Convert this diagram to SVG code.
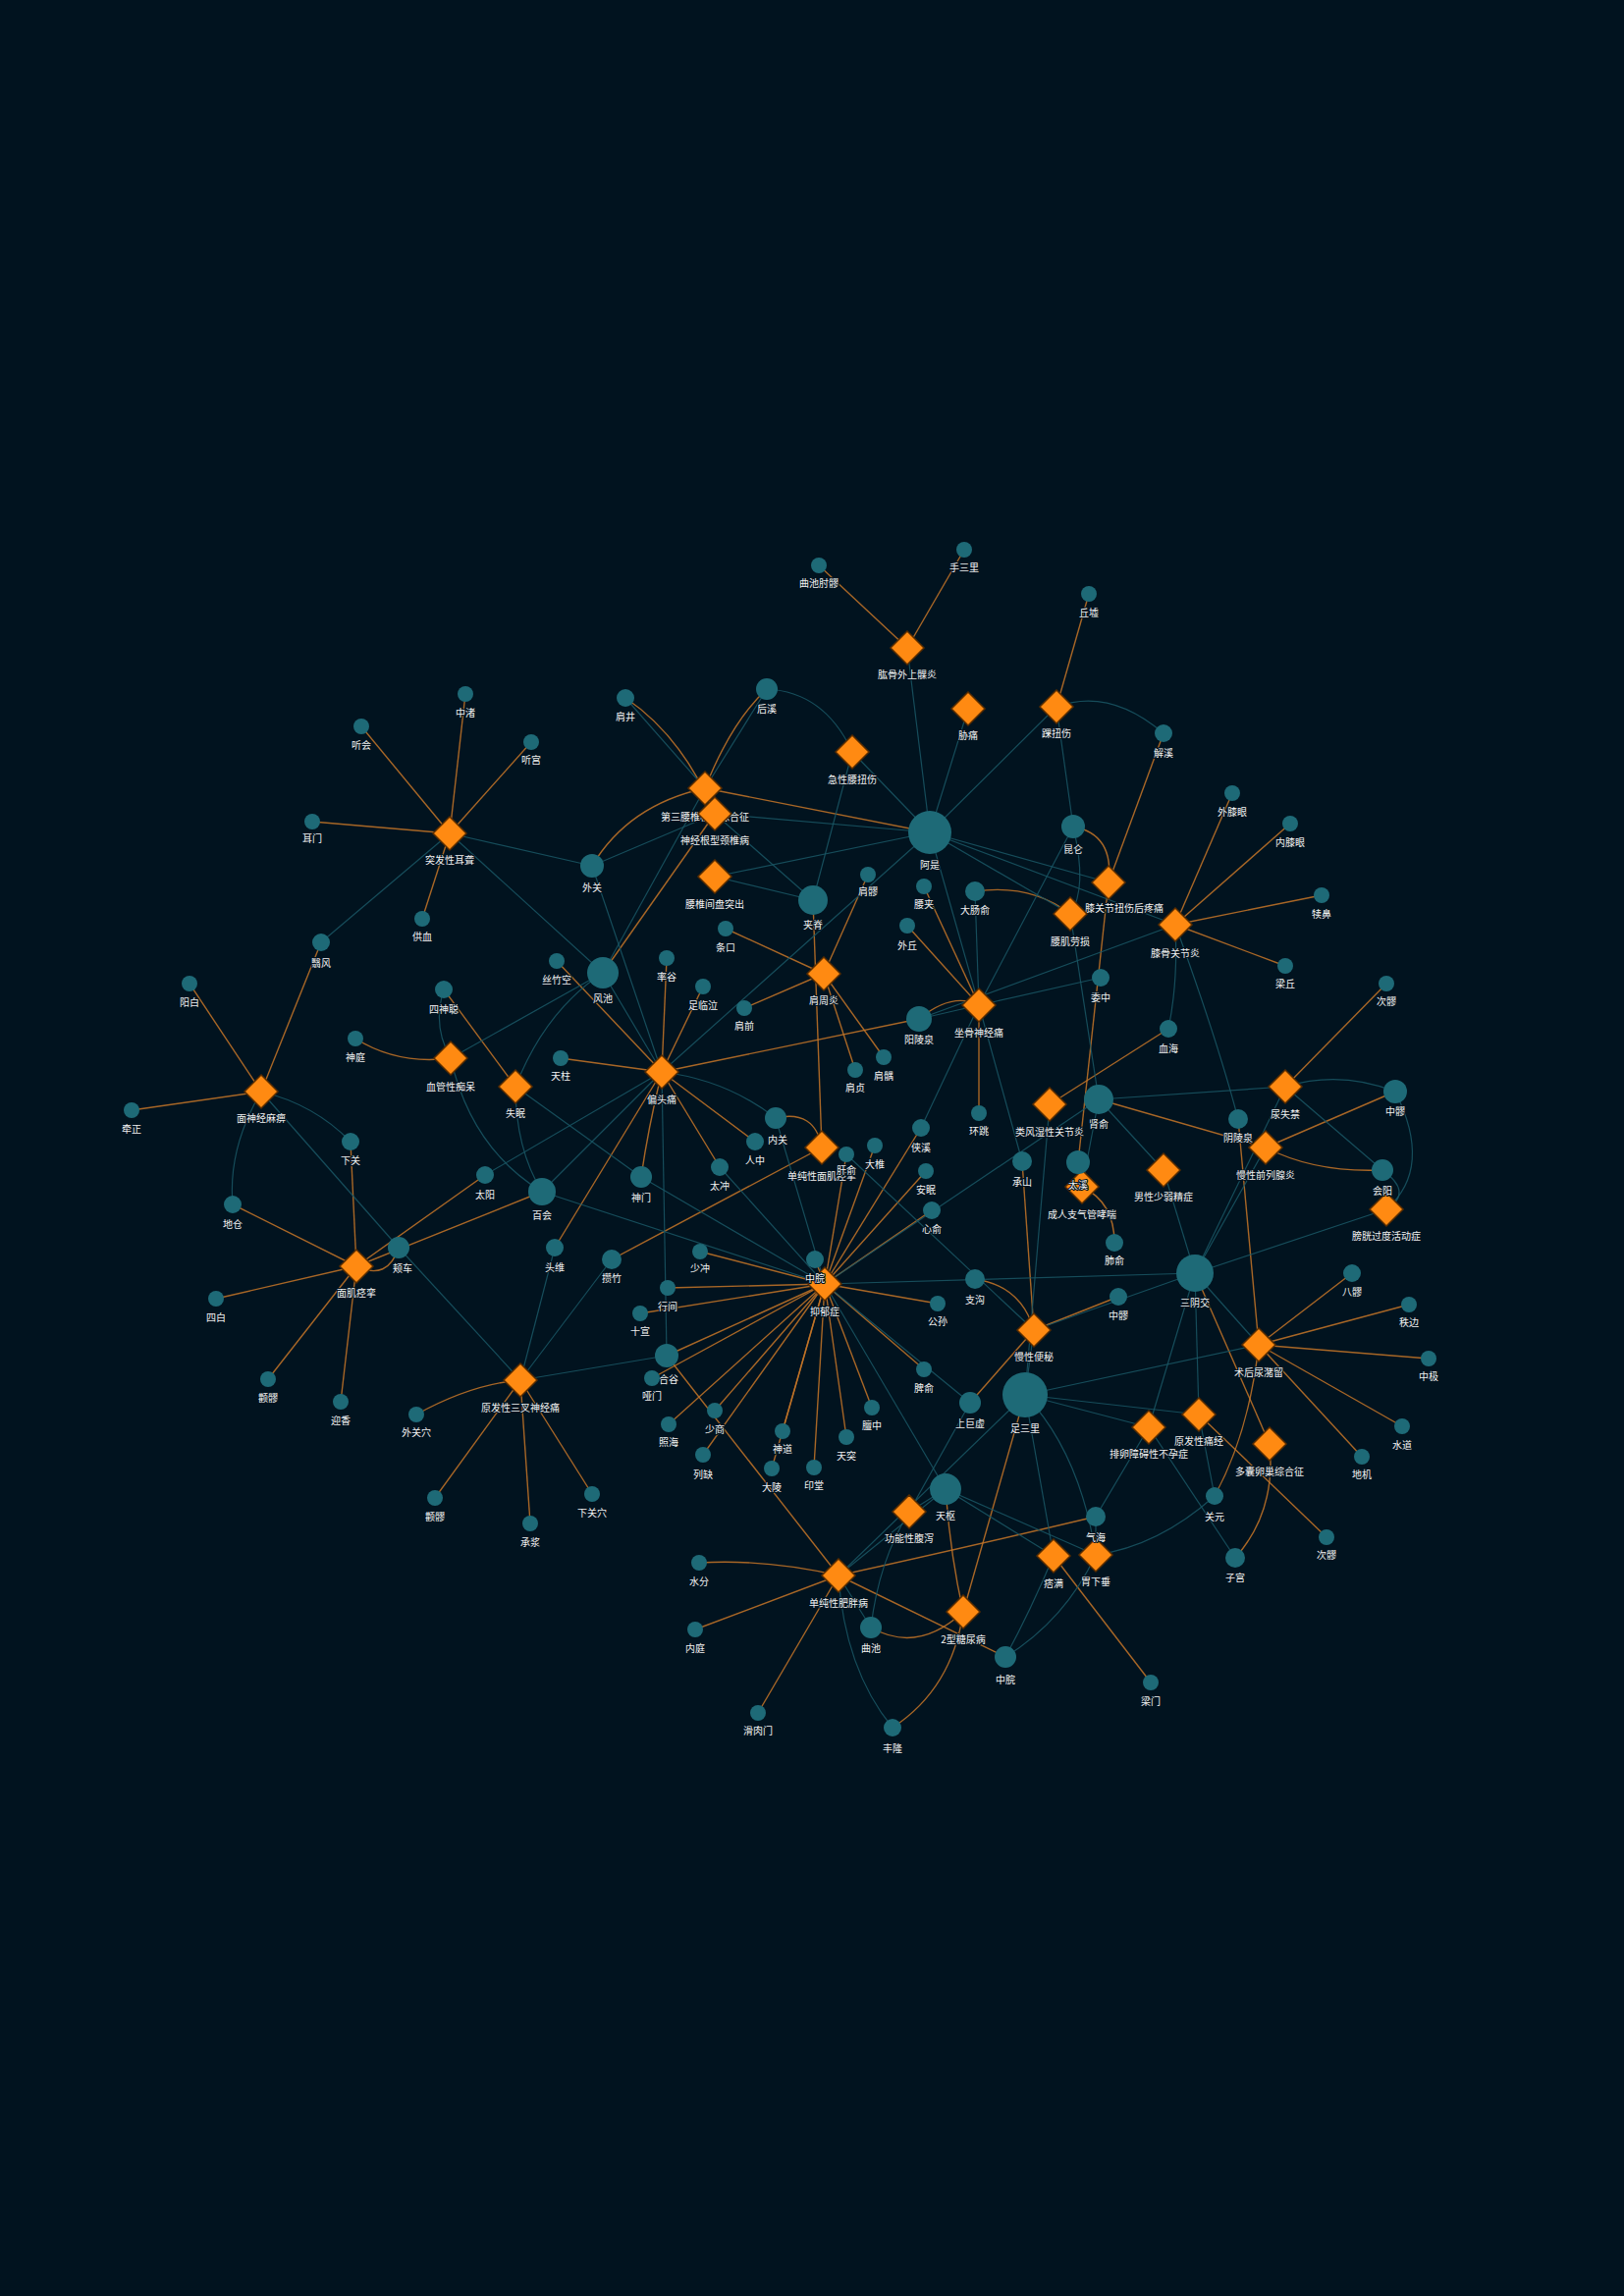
<svg xmlns="http://www.w3.org/2000/svg" xmlns:xlink="http://www.w3.org/1999/xlink" width="1654" height="2339" viewBox="0 0 1654 2339">
<defs>
<style>
.eo{stroke:#c57628;stroke-width:1.4;fill:none;opacity:.85}
.et{stroke:#1a5765;stroke-width:1.2;fill:none;opacity:.85}
.pt{fill:#1e6a77}
.dz{fill:#ff8a12;stroke:#5a2d00;stroke-width:1.5}
text{font-family:"Noto Sans CJK SC","Noto Sans",sans-serif;font-size:10px;fill:#f2f2f2;text-anchor:middle;stroke:#02131f;stroke-width:2.2;paint-order:stroke;stroke-linejoin:round}
</style>
<path id="dm" d="M0,-17 L17,0 L0,17 L-17,0Z"/>
</defs>
<rect width="1654" height="2339" fill="#01131f"/>
<g id="edges">
<line class="eo" x1="924" y1="660" x2="834" y2="576"/>
<line class="eo" x1="924" y1="660" x2="982" y2="560"/>
<line class="eo" x1="1076" y1="720" x2="1109" y2="605"/>
<line class="eo" x1="718" y1="803" x2="947" y2="848"/>
<line class="eo" x1="728" y1="829" x2="614" y2="991"/>
<line class="eo" x1="458" y1="849" x2="368" y2="740"/>
<line class="eo" x1="458" y1="849" x2="474" y2="707"/>
<line class="eo" x1="458" y1="849" x2="541" y2="756"/>
<line class="eo" x1="458" y1="849" x2="318" y2="837"/>
<line class="eo" x1="458" y1="849" x2="430" y2="936"/>
<line class="eo" x1="1129" y1="899" x2="1185" y2="747"/>
<line class="eo" x1="1129" y1="899" x2="1098" y2="1184"/>
<line class="eo" x1="1197" y1="942" x2="1255" y2="808"/>
<line class="eo" x1="1197" y1="942" x2="1314" y2="839"/>
<line class="eo" x1="1197" y1="942" x2="1346" y2="912"/>
<line class="eo" x1="1197" y1="942" x2="1309" y2="984"/>
<line class="eo" x1="839" y1="992" x2="739" y2="946"/>
<line class="eo" x1="839" y1="992" x2="884" y2="891"/>
<line class="eo" x1="839" y1="992" x2="758" y2="1027"/>
<line class="eo" x1="839" y1="992" x2="871" y2="1090"/>
<line class="eo" x1="839" y1="992" x2="900" y2="1077"/>
<line class="eo" x1="837" y1="1169" x2="828" y2="917"/>
<line class="eo" x1="837" y1="1169" x2="623" y2="1283"/>
<line class="eo" x1="997" y1="1024" x2="924" y2="943"/>
<line class="eo" x1="997" y1="1024" x2="941" y2="903"/>
<line class="eo" x1="997" y1="1024" x2="997" y2="1134"/>
<line class="eo" x1="674" y1="1092" x2="679" y2="976"/>
<line class="eo" x1="674" y1="1092" x2="716" y2="1005"/>
<line class="eo" x1="674" y1="1092" x2="567" y2="979"/>
<line class="eo" x1="674" y1="1092" x2="571" y2="1078"/>
<line class="eo" x1="674" y1="1092" x2="733" y2="1189"/>
<line class="eo" x1="674" y1="1092" x2="769" y2="1163"/>
<line class="eo" x1="674" y1="1092" x2="565" y2="1271"/>
<line class="eo" x1="674" y1="1092" x2="936" y2="1038"/>
<line class="eo" x1="525" y1="1107" x2="452" y2="1008"/>
<line class="eo" x1="266" y1="1112" x2="193" y2="1002"/>
<line class="eo" x1="266" y1="1112" x2="327" y2="960"/>
<line class="eo" x1="266" y1="1112" x2="134" y2="1131"/>
<line class="eo" x1="363" y1="1290" x2="237" y2="1227"/>
<line class="eo" x1="363" y1="1290" x2="357" y2="1163"/>
<line class="eo" x1="363" y1="1290" x2="220" y2="1323"/>
<line class="eo" x1="363" y1="1290" x2="273" y2="1405"/>
<line class="eo" x1="363" y1="1290" x2="347" y2="1428"/>
<line class="eo" x1="363" y1="1290" x2="494" y2="1197"/>
<line class="eo" x1="363" y1="1290" x2="552" y2="1214"/>
<line class="eo" x1="530" y1="1406" x2="443" y2="1526"/>
<line class="eo" x1="530" y1="1406" x2="540" y2="1552"/>
<line class="eo" x1="530" y1="1406" x2="603" y2="1522"/>
<line class="eo" x1="840" y1="1308" x2="830" y2="1283"/>
<line class="eo" x1="840" y1="1308" x2="862" y2="1176"/>
<line class="eo" x1="840" y1="1308" x2="891" y2="1167"/>
<line class="eo" x1="840" y1="1308" x2="938" y2="1149"/>
<line class="eo" x1="840" y1="1308" x2="943" y2="1193"/>
<line class="eo" x1="840" y1="1308" x2="949" y2="1233"/>
<line class="eo" x1="840" y1="1308" x2="955" y2="1328"/>
<line class="eo" x1="840" y1="1308" x2="941" y2="1395"/>
<line class="eo" x1="840" y1="1308" x2="888" y2="1434"/>
<line class="eo" x1="840" y1="1308" x2="862" y2="1464"/>
<line class="eo" x1="840" y1="1308" x2="829" y2="1495"/>
<line class="eo" x1="840" y1="1308" x2="786" y2="1496"/>
<line class="eo" x1="840" y1="1308" x2="797" y2="1458"/>
<line class="eo" x1="840" y1="1308" x2="716" y2="1482"/>
<line class="eo" x1="840" y1="1308" x2="728" y2="1437"/>
<line class="eo" x1="840" y1="1308" x2="681" y2="1451"/>
<line class="eo" x1="840" y1="1308" x2="664" y2="1404"/>
<line class="eo" x1="840" y1="1308" x2="679" y2="1381"/>
<line class="eo" x1="840" y1="1308" x2="652" y2="1338"/>
<line class="eo" x1="840" y1="1308" x2="680" y2="1312"/>
<line class="eo" x1="840" y1="1308" x2="713" y2="1275"/>
<line class="eo" x1="1053" y1="1355" x2="1041" y2="1183"/>
<line class="eo" x1="1053" y1="1355" x2="1139" y2="1321"/>
<line class="eo" x1="1053" y1="1355" x2="988" y2="1429"/>
<line class="eo" x1="1069" y1="1125" x2="1190" y2="1048"/>
<line class="eo" x1="1102" y1="1209" x2="1098" y2="1184"/>
<line class="eo" x1="1309" y1="1107" x2="1412" y2="1002"/>
<line class="eo" x1="1289" y1="1169" x2="1421" y2="1112"/>
<line class="eo" x1="1289" y1="1169" x2="1119" y2="1120"/>
<line class="eo" x1="1282" y1="1370" x2="1261" y2="1140"/>
<line class="eo" x1="1282" y1="1370" x2="1377" y2="1297"/>
<line class="eo" x1="1282" y1="1370" x2="1435" y2="1329"/>
<line class="eo" x1="1282" y1="1370" x2="1455" y2="1384"/>
<line class="eo" x1="1282" y1="1370" x2="1428" y2="1453"/>
<line class="eo" x1="1282" y1="1370" x2="1387" y2="1484"/>
<line class="eo" x1="1221" y1="1441" x2="1351" y2="1566"/>
<line class="eo" x1="1293" y1="1471" x2="1217" y2="1297"/>
<line class="eo" x1="1073" y1="1585" x2="1172" y2="1714"/>
<line class="eo" x1="854" y1="1605" x2="708" y2="1660"/>
<line class="eo" x1="854" y1="1605" x2="772" y2="1745"/>
<line class="eo" x1="854" y1="1605" x2="679" y2="1381"/>
<line class="eo" x1="854" y1="1605" x2="1024" y2="1688"/>
<line class="eo" x1="981" y1="1642" x2="1044" y2="1421"/>
<path class="eo" d="M781,702 Q745,735 718,803"/>
<path class="eo" d="M603,882 Q640,820 718,803"/>
<path class="eo" d="M637,711 Q695,750 728,829"/>
<path class="eo" d="M362,1058 Q405,1085 459,1078"/>
<path class="eo" d="M674,1092 Q660,1150 653,1199"/>
<path class="eo" d="M363,1290 Q395,1305 406,1271"/>
<path class="eo" d="M837,1169 Q830,1130 790,1139"/>
<path class="eo" d="M997,1024 Q970,1010 936,1038"/>
<path class="eo" d="M1090,931 Q1050,900 993,908"/>
<path class="eo" d="M1129,899 Q1135,850 1093,842"/>
<path class="eo" d="M1053,1355 Q1040,1310 993,1303"/>
<path class="eo" d="M1102,1209 Q1135,1225 1135,1266"/>
<path class="eo" d="M1289,1169 Q1340,1195 1408,1192"/>
<path class="eo" d="M1282,1370 Q1272,1460 1237,1524"/>
<path class="eo" d="M1293,1471 Q1300,1540 1258,1587"/>
<path class="eo" d="M854,1605 Q780,1588 712,1592"/>
<path class="eo" d="M854,1605 Q990,1575 1116,1545"/>
<path class="eo" d="M981,1642 Q935,1685 887,1658"/>
<path class="eo" d="M981,1642 Q970,1720 909,1760"/>
<path class="eo" d="M981,1642 Q968,1585 963,1517"/>
<path class="eo" d="M530,1406 Q480,1410 424,1441"/>
<line class="et" x1="924" y1="660" x2="947" y2="848"/>
<line class="et" x1="986" y1="722" x2="947" y2="848"/>
<line class="et" x1="1076" y1="720" x2="947" y2="848"/>
<line class="et" x1="1076" y1="720" x2="1093" y2="842"/>
<line class="et" x1="868" y1="766" x2="947" y2="848"/>
<line class="et" x1="868" y1="766" x2="828" y2="917"/>
<line class="et" x1="718" y1="803" x2="637" y2="711"/>
<line class="et" x1="718" y1="803" x2="781" y2="702"/>
<line class="et" x1="718" y1="803" x2="614" y2="991"/>
<line class="et" x1="728" y1="829" x2="603" y2="882"/>
<line class="et" x1="728" y1="829" x2="828" y2="917"/>
<line class="et" x1="728" y1="829" x2="947" y2="848"/>
<line class="et" x1="458" y1="849" x2="603" y2="882"/>
<line class="et" x1="458" y1="849" x2="327" y2="960"/>
<line class="et" x1="458" y1="849" x2="614" y2="991"/>
<line class="et" x1="728" y1="893" x2="828" y2="917"/>
<line class="et" x1="728" y1="893" x2="947" y2="848"/>
<line class="et" x1="1129" y1="899" x2="947" y2="848"/>
<line class="et" x1="1090" y1="931" x2="947" y2="848"/>
<line class="et" x1="1090" y1="931" x2="1119" y2="1120"/>
<line class="et" x1="1197" y1="942" x2="936" y2="1038"/>
<line class="et" x1="1197" y1="942" x2="947" y2="848"/>
<line class="et" x1="997" y1="1024" x2="993" y2="908"/>
<line class="et" x1="997" y1="1024" x2="1121" y2="996"/>
<line class="et" x1="997" y1="1024" x2="1041" y2="1183"/>
<line class="et" x1="997" y1="1024" x2="938" y2="1149"/>
<line class="et" x1="997" y1="1024" x2="1093" y2="842"/>
<line class="et" x1="997" y1="1024" x2="936" y2="1038"/>
<line class="et" x1="997" y1="1024" x2="947" y2="848"/>
<line class="et" x1="459" y1="1078" x2="614" y2="991"/>
<line class="et" x1="674" y1="1092" x2="614" y2="991"/>
<line class="et" x1="674" y1="1092" x2="494" y2="1197"/>
<line class="et" x1="674" y1="1092" x2="552" y2="1214"/>
<line class="et" x1="674" y1="1092" x2="679" y2="1381"/>
<line class="et" x1="674" y1="1092" x2="603" y2="882"/>
<line class="et" x1="674" y1="1092" x2="947" y2="848"/>
<line class="et" x1="525" y1="1107" x2="653" y2="1199"/>
<line class="et" x1="266" y1="1112" x2="406" y2="1271"/>
<line class="et" x1="530" y1="1406" x2="679" y2="1381"/>
<line class="et" x1="530" y1="1406" x2="406" y2="1271"/>
<line class="et" x1="530" y1="1406" x2="565" y2="1271"/>
<line class="et" x1="530" y1="1406" x2="623" y2="1283"/>
<line class="et" x1="840" y1="1308" x2="1217" y2="1297"/>
<line class="et" x1="840" y1="1308" x2="653" y2="1199"/>
<line class="et" x1="840" y1="1308" x2="733" y2="1189"/>
<line class="et" x1="840" y1="1308" x2="552" y2="1214"/>
<line class="et" x1="840" y1="1308" x2="790" y2="1139"/>
<line class="et" x1="840" y1="1308" x2="1119" y2="1120"/>
<line class="et" x1="840" y1="1308" x2="963" y2="1517"/>
<line class="et" x1="840" y1="1308" x2="988" y2="1429"/>
<line class="et" x1="1053" y1="1355" x2="1044" y2="1421"/>
<line class="et" x1="1053" y1="1355" x2="1217" y2="1297"/>
<line class="et" x1="1053" y1="1355" x2="862" y2="1176"/>
<line class="et" x1="1069" y1="1125" x2="1044" y2="1421"/>
<line class="et" x1="1102" y1="1209" x2="1119" y2="1120"/>
<line class="et" x1="1309" y1="1107" x2="1119" y2="1120"/>
<line class="et" x1="1309" y1="1107" x2="1217" y2="1297"/>
<line class="et" x1="1309" y1="1107" x2="1408" y2="1192"/>
<line class="et" x1="1289" y1="1169" x2="1217" y2="1297"/>
<line class="et" x1="1185" y1="1192" x2="1217" y2="1297"/>
<line class="et" x1="1185" y1="1192" x2="1119" y2="1120"/>
<line class="et" x1="1412" y1="1232" x2="1217" y2="1297"/>
<line class="et" x1="1282" y1="1370" x2="1044" y2="1421"/>
<line class="et" x1="1282" y1="1370" x2="1217" y2="1297"/>
<line class="et" x1="1221" y1="1441" x2="1217" y2="1297"/>
<line class="et" x1="1221" y1="1441" x2="1044" y2="1421"/>
<line class="et" x1="1221" y1="1441" x2="1237" y2="1524"/>
<line class="et" x1="1170" y1="1454" x2="1258" y2="1587"/>
<line class="et" x1="1170" y1="1454" x2="1217" y2="1297"/>
<line class="et" x1="1170" y1="1454" x2="1044" y2="1421"/>
<line class="et" x1="1170" y1="1454" x2="1116" y2="1545"/>
<line class="et" x1="926" y1="1540" x2="963" y2="1517"/>
<line class="et" x1="926" y1="1540" x2="988" y2="1429"/>
<line class="et" x1="1073" y1="1585" x2="1044" y2="1421"/>
<line class="et" x1="1073" y1="1585" x2="963" y2="1517"/>
<line class="et" x1="1116" y1="1584" x2="1116" y2="1545"/>
<line class="et" x1="1116" y1="1584" x2="963" y2="1517"/>
<line class="et" x1="854" y1="1605" x2="963" y2="1517"/>
<line class="et" x1="854" y1="1605" x2="1044" y2="1421"/>
<line class="et" x1="854" y1="1605" x2="887" y2="1658"/>
<path class="et" d="M781,702 Q840,705 868,766"/>
<path class="et" d="M1076,720 Q1130,700 1185,747"/>
<path class="et" d="M452,1008 Q440,1045 459,1078"/>
<path class="et" d="M459,1078 Q480,1170 552,1214"/>
<path class="et" d="M525,1107 Q525,1170 552,1214"/>
<path class="et" d="M525,1107 Q555,1030 614,991"/>
<path class="et" d="M674,1092 Q740,1100 790,1139"/>
<path class="et" d="M266,1112 Q320,1125 357,1163"/>
<path class="et" d="M266,1112 Q232,1170 237,1227"/>
<path class="et" d="M1090,931 Q1108,905 1093,842"/>
<path class="et" d="M1309,1107 Q1365,1090 1421,1112"/>
<path class="et" d="M1421,1112 Q1460,1190 1412,1232"/>
<path class="et" d="M1408,1192 Q1440,1215 1412,1232"/>
<path class="et" d="M1197,942 Q1200,1000 1190,1048"/>
<path class="et" d="M1197,942 Q1240,1060 1261,1140"/>
<path class="et" d="M854,1605 Q860,1700 909,1760"/>
<path class="et" d="M1116,1584 Q1085,1650 1024,1688"/>
<path class="et" d="M1073,1585 Q1050,1640 1024,1688"/>
<path class="et" d="M1116,1584 Q1100,1480 1044,1421"/>
<path class="et" d="M1237,1524 Q1180,1575 1116,1584"/>
<path class="et" d="M926,1540 Q895,1590 887,1658"/>
</g>
<g id="diseases">
<g id="d1"><use href="#dm" class="dz" x="924" y="660"/><text x="924" y="691">肱骨外上髁炎</text></g>
<g id="d2"><use href="#dm" class="dz" x="986" y="722"/><text x="986" y="753">胁痛</text></g>
<g id="d3"><use href="#dm" class="dz" x="1076" y="720"/><text x="1076" y="751">踝扭伤</text></g>
<g id="d4"><use href="#dm" class="dz" x="868" y="766"/><text x="868" y="798">急性腰扭伤</text></g>
<g id="d5"><use href="#dm" class="dz" x="718" y="803"/><text x="718" y="836">第三腰椎横突综合征</text></g>
<g id="d6"><use href="#dm" class="dz" x="728" y="829"/><text x="728" y="860">神经根型颈椎病</text></g>
<g id="d7"><use href="#dm" class="dz" x="458" y="849"/><text x="458" y="880">突发性耳聋</text></g>
<g id="d8"><use href="#dm" class="dz" x="728" y="893"/><text x="728" y="925">腰椎间盘突出</text></g>
<g id="d9"><use href="#dm" class="dz" x="1129" y="899"/><text x="1145" y="929">膝关节扭伤后疼痛</text></g>
<g id="d10"><use href="#dm" class="dz" x="1090" y="931"/><text x="1090" y="963">腰肌劳损</text></g>
<g id="d11"><use href="#dm" class="dz" x="1197" y="942"/><text x="1197" y="975">膝骨关节炎</text></g>
<g id="d12"><use href="#dm" class="dz" x="839" y="992"/><text x="839" y="1023">肩周炎</text></g>
<g id="d13"><use href="#dm" class="dz" x="997" y="1024"/><text x="997" y="1056">坐骨神经痛</text></g>
<g id="d14"><use href="#dm" class="dz" x="459" y="1078"/><text x="459" y="1111">血管性痴呆</text></g>
<g id="d15"><use href="#dm" class="dz" x="674" y="1092"/><text x="674" y="1124">偏头痛</text></g>
<g id="d16"><use href="#dm" class="dz" x="525" y="1107"/><text x="525" y="1138">失眠</text></g>
<g id="d17"><use href="#dm" class="dz" x="266" y="1112"/><text x="266" y="1143">面神经麻痹</text></g>
<g id="d18"><use href="#dm" class="dz" x="1309" y="1107"/><text x="1309" y="1139">尿失禁</text></g>
<g id="d19"><use href="#dm" class="dz" x="1069" y="1125"/><text x="1069" y="1157">类风湿性关节炎</text></g>
<g id="d20"><use href="#dm" class="dz" x="837" y="1169"/><text x="837" y="1202">单纯性面肌痉挛</text></g>
<g id="d21"><use href="#dm" class="dz" x="1289" y="1169"/><text x="1289" y="1201">慢性前列腺炎</text></g>
<g id="d22"><use href="#dm" class="dz" x="1185" y="1192"/><text x="1185" y="1223">男性少弱精症</text></g>
<g id="d23"><use href="#dm" class="dz" x="1102" y="1209"/><text x="1102" y="1241">成人支气管哮喘</text></g>
<g id="d24"><use href="#dm" class="dz" x="1412" y="1232"/><text x="1412" y="1263">膀胱过度活动症</text></g>
<g id="d25"><use href="#dm" class="dz" x="363" y="1290"/><text x="363" y="1321">面肌痉挛</text></g>
<g id="d26"><use href="#dm" class="dz" x="840" y="1308"/><text x="840" y="1340">抑郁症</text></g>
<g id="d27"><use href="#dm" class="dz" x="1053" y="1355"/><text x="1053" y="1386">慢性便秘</text></g>
<g id="d28"><use href="#dm" class="dz" x="1282" y="1370"/><text x="1282" y="1402">术后尿潴留</text></g>
<g id="d29"><use href="#dm" class="dz" x="530" y="1406"/><text x="530" y="1438">原发性三叉神经痛</text></g>
<g id="d30"><use href="#dm" class="dz" x="1221" y="1441"/><text x="1221" y="1472">原发性痛经</text></g>
<g id="d31"><use href="#dm" class="dz" x="1170" y="1454"/><text x="1170" y="1485">排卵障碍性不孕症</text></g>
<g id="d32"><use href="#dm" class="dz" x="1293" y="1471"/><text x="1293" y="1503">多囊卵巢综合征</text></g>
<g id="d33"><use href="#dm" class="dz" x="926" y="1540"/><text x="926" y="1571">功能性腹泻</text></g>
<g id="d34"><use href="#dm" class="dz" x="1073" y="1585"/><text x="1073" y="1617">痞满</text></g>
<g id="d35"><use href="#dm" class="dz" x="1116" y="1584"/><text x="1116" y="1615">胃下垂</text></g>
<g id="d36"><use href="#dm" class="dz" x="854" y="1605"/><text x="854" y="1637">单纯性肥胖病</text></g>
<g id="d37"><use href="#dm" class="dz" x="981" y="1642"/><text x="981" y="1674">2型糖尿病</text></g>
</g>
<g id="points">
<g id="p1"><circle class="pt" cx="834" cy="576" r="8"/><text x="834" y="598">曲池肘髎</text></g>
<g id="p2"><circle class="pt" cx="982" cy="560" r="8"/><text x="982" y="582">手三里</text></g>
<g id="p3"><circle class="pt" cx="1109" cy="605" r="8"/><text x="1109" y="628">丘墟</text></g>
<g id="p4"><circle class="pt" cx="368" cy="740" r="8"/><text x="368" y="763">听会</text></g>
<g id="p5"><circle class="pt" cx="474" cy="707" r="8"/><text x="474" y="730">中渚</text></g>
<g id="p6"><circle class="pt" cx="541" cy="756" r="8"/><text x="541" y="778">听宫</text></g>
<g id="p7"><circle class="pt" cx="637" cy="711" r="9"/><text x="637" y="734">肩井</text></g>
<g id="p8"><circle class="pt" cx="781" cy="702" r="11"/><text x="781" y="726">后溪</text></g>
<g id="p9"><circle class="pt" cx="1185" cy="747" r="9"/><text x="1185" y="771">解溪</text></g>
<g id="p10"><circle class="pt" cx="318" cy="837" r="8"/><text x="318" y="858">耳门</text></g>
<g id="p11"><circle class="pt" cx="947" cy="848" r="22"/><text x="947" y="885">阿是</text></g>
<g id="p12"><circle class="pt" cx="1093" cy="842" r="12"/><text x="1093" y="869">昆仑</text></g>
<g id="p13"><circle class="pt" cx="1255" cy="808" r="8"/><text x="1255" y="831">外膝眼</text></g>
<g id="p14"><circle class="pt" cx="1314" cy="839" r="8"/><text x="1314" y="862">内膝眼</text></g>
<g id="p15"><circle class="pt" cx="603" cy="882" r="12"/><text x="603" y="908">外关</text></g>
<g id="p16"><circle class="pt" cx="884" cy="891" r="8"/><text x="884" y="912">肩髎</text></g>
<g id="p17"><circle class="pt" cx="941" cy="903" r="8"/><text x="941" y="925">腰夹</text></g>
<g id="p18"><circle class="pt" cx="993" cy="908" r="10"/><text x="993" y="931">大肠俞</text></g>
<g id="p19"><circle class="pt" cx="1346" cy="912" r="8"/><text x="1346" y="935">犊鼻</text></g>
<g id="p20"><circle class="pt" cx="828" cy="917" r="15"/><text x="828" y="946">夹脊</text></g>
<g id="p21"><circle class="pt" cx="430" cy="936" r="8"/><text x="430" y="958">供血</text></g>
<g id="p22"><circle class="pt" cx="924" cy="943" r="8"/><text x="924" y="967">外丘</text></g>
<g id="p23"><circle class="pt" cx="739" cy="946" r="8"/><text x="739" y="969">条口</text></g>
<g id="p24"><circle class="pt" cx="327" cy="960" r="9"/><text x="327" y="985">翳风</text></g>
<g id="p25"><circle class="pt" cx="193" cy="1002" r="8"/><text x="193" y="1025">阳白</text></g>
<g id="p26"><circle class="pt" cx="452" cy="1008" r="9"/><text x="452" y="1032">四神聪</text></g>
<g id="p27"><circle class="pt" cx="567" cy="979" r="8"/><text x="567" y="1002">丝竹空</text></g>
<g id="p28"><circle class="pt" cx="614" cy="991" r="16"/><text x="614" y="1021">风池</text></g>
<g id="p29"><circle class="pt" cx="679" cy="976" r="8"/><text x="679" y="999">率谷</text></g>
<g id="p30"><circle class="pt" cx="716" cy="1005" r="8"/><text x="716" y="1028">足临泣</text></g>
<g id="p31"><circle class="pt" cx="1412" cy="1002" r="8"/><text x="1412" y="1024">次髎</text></g>
<g id="p32"><circle class="pt" cx="1309" cy="984" r="8"/><text x="1309" y="1006">梁丘</text></g>
<g id="p33"><circle class="pt" cx="1121" cy="996" r="9"/><text x="1121" y="1020">委中</text></g>
<g id="p34"><circle class="pt" cx="758" cy="1027" r="8"/><text x="758" y="1049">肩前</text></g>
<g id="p35"><circle class="pt" cx="936" cy="1038" r="13"/><text x="936" y="1063">阳陵泉</text></g>
<g id="p36"><circle class="pt" cx="1190" cy="1048" r="9"/><text x="1190" y="1072">血海</text></g>
<g id="p37"><circle class="pt" cx="362" cy="1058" r="8"/><text x="362" y="1081">神庭</text></g>
<g id="p38"><circle class="pt" cx="571" cy="1078" r="8"/><text x="571" y="1100">天柱</text></g>
<g id="p39"><circle class="pt" cx="900" cy="1077" r="8"/><text x="900" y="1100">肩髃</text></g>
<g id="p40"><circle class="pt" cx="871" cy="1090" r="8"/><text x="871" y="1112">肩贞</text></g>
<g id="p41"><circle class="pt" cx="1421" cy="1112" r="12"/><text x="1421" y="1136">中髎</text></g>
<g id="p42"><circle class="pt" cx="134" cy="1131" r="8"/><text x="134" y="1154">牵正</text></g>
<g id="p43"><circle class="pt" cx="997" cy="1134" r="8"/><text x="997" y="1156">环跳</text></g>
<g id="p44"><circle class="pt" cx="790" cy="1139" r="11"/><text x="792" y="1165">内关</text></g>
<g id="p45"><circle class="pt" cx="1119" cy="1120" r="15"/><text x="1119" y="1149">肾俞</text></g>
<g id="p46"><circle class="pt" cx="1261" cy="1140" r="10"/><text x="1261" y="1163">阴陵泉</text></g>
<g id="p47"><circle class="pt" cx="938" cy="1149" r="9"/><text x="938" y="1173">侠溪</text></g>
<g id="p48"><circle class="pt" cx="357" cy="1163" r="9"/><text x="357" y="1186">下关</text></g>
<g id="p49"><circle class="pt" cx="769" cy="1163" r="9"/><text x="769" y="1186">人中</text></g>
<g id="p50"><circle class="pt" cx="891" cy="1167" r="8"/><text x="891" y="1190">大椎</text></g>
<g id="p51"><circle class="pt" cx="862" cy="1176" r="8"/><text x="862" y="1196">肝俞</text></g>
<g id="p52"><circle class="pt" cx="1041" cy="1183" r="10"/><text x="1041" y="1208">承山</text></g>
<g id="p53"><circle class="pt" cx="1098" cy="1184" r="12"/><text x="1098" y="1211">太溪</text></g>
<g id="p54"><circle class="pt" cx="733" cy="1189" r="9"/><text x="733" y="1212">太冲</text></g>
<g id="p55"><circle class="pt" cx="1408" cy="1192" r="11"/><text x="1408" y="1217">会阳</text></g>
<g id="p56"><circle class="pt" cx="943" cy="1193" r="8"/><text x="943" y="1216">安眠</text></g>
<g id="p57"><circle class="pt" cx="494" cy="1197" r="9"/><text x="494" y="1221">太阳</text></g>
<g id="p58"><circle class="pt" cx="653" cy="1199" r="11"/><text x="653" y="1224">神门</text></g>
<g id="p59"><circle class="pt" cx="552" cy="1214" r="14"/><text x="552" y="1242">百会</text></g>
<g id="p60"><circle class="pt" cx="237" cy="1227" r="9"/><text x="237" y="1251">地仓</text></g>
<g id="p61"><circle class="pt" cx="949" cy="1233" r="9"/><text x="949" y="1256">心俞</text></g>
<g id="p62"><circle class="pt" cx="1135" cy="1266" r="9"/><text x="1135" y="1288">肺俞</text></g>
<g id="p63"><circle class="pt" cx="406" cy="1271" r="11"/><text x="410" y="1296">颊车</text></g>
<g id="p64"><circle class="pt" cx="565" cy="1271" r="9"/><text x="565" y="1295">头维</text></g>
<g id="p65"><circle class="pt" cx="713" cy="1275" r="8"/><text x="713" y="1296">少冲</text></g>
<g id="p66"><circle class="pt" cx="623" cy="1283" r="10"/><text x="623" y="1306">攒竹</text></g>
<g id="p67"><circle class="pt" cx="830" cy="1283" r="9"/><text x="830" y="1306">中脘</text></g>
<g id="p68"><circle class="pt" cx="1217" cy="1297" r="19"/><text x="1217" y="1331">三阴交</text></g>
<g id="p69"><circle class="pt" cx="1377" cy="1297" r="9"/><text x="1377" y="1320">八髎</text></g>
<g id="p70"><circle class="pt" cx="993" cy="1303" r="10"/><text x="993" y="1328">支沟</text></g>
<g id="p71"><circle class="pt" cx="680" cy="1312" r="8"/><text x="680" y="1335">行间</text></g>
<g id="p72"><circle class="pt" cx="220" cy="1323" r="8"/><text x="220" y="1346">四白</text></g>
<g id="p73"><circle class="pt" cx="955" cy="1328" r="8"/><text x="955" y="1350">公孙</text></g>
<g id="p74"><circle class="pt" cx="1139" cy="1321" r="9"/><text x="1139" y="1344">中髎</text></g>
<g id="p75"><circle class="pt" cx="1435" cy="1329" r="8"/><text x="1435" y="1351">秩边</text></g>
<g id="p76"><circle class="pt" cx="652" cy="1338" r="8"/><text x="652" y="1360">十宣</text></g>
<g id="p77"><circle class="pt" cx="679" cy="1381" r="12"/><text x="681" y="1409">合谷</text></g>
<g id="p78"><circle class="pt" cx="1455" cy="1384" r="8"/><text x="1455" y="1406">中极</text></g>
<g id="p79"><circle class="pt" cx="664" cy="1404" r="8"/><text x="664" y="1426">哑门</text></g>
<g id="p80"><circle class="pt" cx="941" cy="1395" r="8"/><text x="941" y="1418">脾俞</text></g>
<g id="p81"><circle class="pt" cx="273" cy="1405" r="8"/><text x="273" y="1428">颧髎</text></g>
<g id="p82"><circle class="pt" cx="347" cy="1428" r="8"/><text x="347" y="1451">迎香</text></g>
<g id="p83"><circle class="pt" cx="1044" cy="1421" r="23"/><text x="1044" y="1459">足三里</text></g>
<g id="p84"><circle class="pt" cx="988" cy="1429" r="11"/><text x="988" y="1454">上巨虚</text></g>
<g id="p85"><circle class="pt" cx="424" cy="1441" r="8"/><text x="424" y="1463">外关穴</text></g>
<g id="p86"><circle class="pt" cx="888" cy="1434" r="8"/><text x="888" y="1456">膻中</text></g>
<g id="p87"><circle class="pt" cx="728" cy="1437" r="8"/><text x="728" y="1460">少商</text></g>
<g id="p88"><circle class="pt" cx="681" cy="1451" r="8"/><text x="681" y="1473">照海</text></g>
<g id="p89"><circle class="pt" cx="1428" cy="1453" r="8"/><text x="1428" y="1476">水道</text></g>
<g id="p90"><circle class="pt" cx="797" cy="1458" r="8"/><text x="797" y="1480">神道</text></g>
<g id="p91"><circle class="pt" cx="862" cy="1464" r="8"/><text x="862" y="1487">天突</text></g>
<g id="p92"><circle class="pt" cx="716" cy="1482" r="8"/><text x="716" y="1506">列缺</text></g>
<g id="p93"><circle class="pt" cx="1387" cy="1484" r="8"/><text x="1387" y="1506">地机</text></g>
<g id="p94"><circle class="pt" cx="829" cy="1495" r="8"/><text x="829" y="1517">印堂</text></g>
<g id="p95"><circle class="pt" cx="786" cy="1496" r="8"/><text x="786" y="1519">大陵</text></g>
<g id="p96"><circle class="pt" cx="963" cy="1517" r="16"/><text x="963" y="1548">天枢</text></g>
<g id="p97"><circle class="pt" cx="1237" cy="1524" r="9"/><text x="1237" y="1549">关元</text></g>
<g id="p98"><circle class="pt" cx="443" cy="1526" r="8"/><text x="443" y="1549">颧髎</text></g>
<g id="p99"><circle class="pt" cx="603" cy="1522" r="8"/><text x="603" y="1545">下关穴</text></g>
<g id="p100"><circle class="pt" cx="1116" cy="1545" r="10"/><text x="1116" y="1570">气海</text></g>
<g id="p101"><circle class="pt" cx="540" cy="1552" r="8"/><text x="540" y="1575">承浆</text></g>
<g id="p102"><circle class="pt" cx="1351" cy="1566" r="8"/><text x="1351" y="1588">次髎</text></g>
<g id="p103"><circle class="pt" cx="1258" cy="1587" r="10"/><text x="1258" y="1611">子宫</text></g>
<g id="p104"><circle class="pt" cx="712" cy="1592" r="8"/><text x="712" y="1615">水分</text></g>
<g id="p105"><circle class="pt" cx="887" cy="1658" r="11"/><text x="887" y="1683">曲池</text></g>
<g id="p106"><circle class="pt" cx="708" cy="1660" r="8"/><text x="708" y="1683">内庭</text></g>
<g id="p107"><circle class="pt" cx="1024" cy="1688" r="11"/><text x="1024" y="1715">中脘</text></g>
<g id="p108"><circle class="pt" cx="1172" cy="1714" r="8"/><text x="1172" y="1737">梁门</text></g>
<g id="p109"><circle class="pt" cx="772" cy="1745" r="8"/><text x="772" y="1767">滑肉门</text></g>
<g id="p110"><circle class="pt" cx="909" cy="1760" r="9"/><text x="909" y="1785">丰隆</text></g>
</g>
</svg>
